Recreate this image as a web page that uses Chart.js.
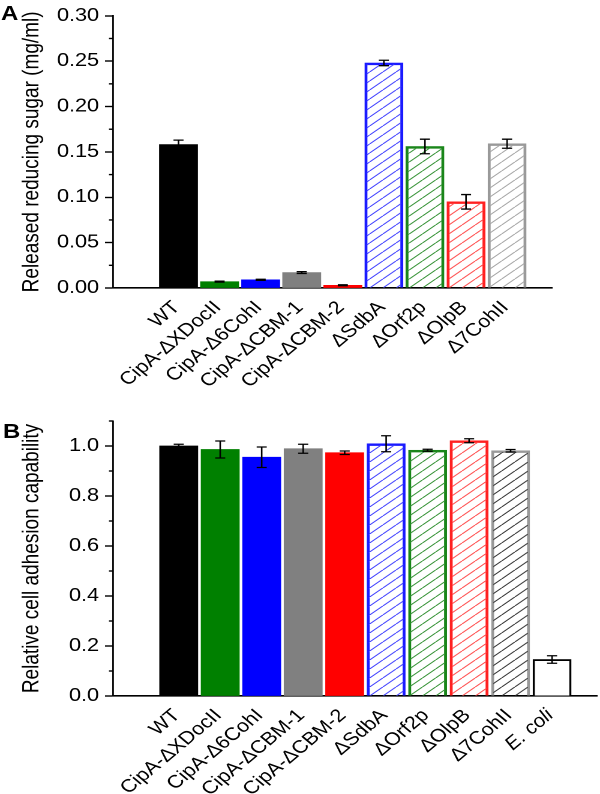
<!DOCTYPE html>
<html><head><meta charset="utf-8">
<script src="https://cdn.jsdelivr.net/npm/chart.js@4.4.1/dist/chart.umd.min.js"></script>
<style>
html,body{margin:0;padding:0;background:#fff;}
#wrap{position:relative;width:600px;height:794px;overflow:hidden;background:#fff;}
canvas{position:absolute;left:0;transform:scaleX(1.2);transform-origin:0 0;}
.lbl{position:absolute;font:bold 20px Arial,"Liberation Sans",sans-serif;color:#000;line-height:20px;transform:scaleX(1.2);transform-origin:0 0;}
</style></head><body>
<div id="wrap">
<canvas id="cA" width="500" height="390" style="top:0"></canvas>
<canvas id="cB" width="500" height="404" style="top:390px"></canvas>
<div class="lbl" style="left:1px;top:3px">A</div>
<div class="lbl" style="left:3px;top:421px">B</div>
</div>
<script>
// ---------- data ----------
const categoriesA = ['WT', 'CipA-\u0394XDocII', 'CipA-\u03946CohI', 'CipA-\u0394CBM-1', 'CipA-\u0394CBM-2', '\u0394SdbA', '\u0394Orf2p', '\u0394OlpB', '\u03947CohII'];
const sugarValues = [0.158, 0.007, 0.009, 0.017, 0.003, 0.248, 0.156, 0.095, 0.159];
const sugarErrors = [0.005, 0.0005, 0.0006, 0.001, 0.0005, 0.003, 0.008, 0.008, 0.005];
const yMajorA = [0, 0.05, 0.10, 0.15, 0.20, 0.25, 0.30];
const yMinorA = [0.025, 0.075, 0.125, 0.175, 0.225, 0.275];

const categoriesB = ['WT', 'CipA-\u0394XDocII', 'CipA-\u03946CohI', 'CipA-\u0394CBM-1', 'CipA-\u0394CBM-2', '\u0394SdbA', '\u0394Orf2p', '\u0394OlpB', '\u03947CohII', 'E. coli'];
const adhesionValues = [1.0, 0.986, 0.955, 0.989, 0.973, 1.009, 0.983, 1.021, 0.981, 0.146];
const adhesionErrors = [0.007, 0.034, 0.041, 0.018, 0.007, 0.032, 0.004, 0.008, 0.005, 0.015];
const yMajorB = [0, 0.2, 0.4, 0.6, 0.8, 1.0];
const yMinorB = [0.1, 0.3, 0.5, 0.7, 0.9, 1.1];

// ---------- styles ----------
const FONT = 'Arial, "Liberation Sans", sans-serif';
Chart.defaults.font.family = FONT;
Chart.defaults.color = '#000';

function hatch(color) {
  const R = 2, w = 11, h = 9;
  const c = document.createElement('canvas');
  c.width = w * R; c.height = h * R;
  const g = c.getContext('2d');
  g.scale(R, R);
  g.strokeStyle = color; g.lineWidth = 1;
  g.beginPath();
  for (let k = -1; k <= 1; k++) { g.moveTo(k * w, h); g.lineTo(k * w + w, 0); }
  g.stroke();
  const p = g.createPattern(c, 'repeat');
  if (p.setTransform && window.DOMMatrix) p.setTransform(new DOMMatrix().scale(1 / R));
  return p;
}

const fillsA = ['#000000', '#008000', '#0000ff', '#808080', '#ff0000',
  hatch('#4646ff'), hatch('#3c963c'), hatch('#ff5050'), hatch('#a8a8a8')];
const bordersA = ['#000000', '#008000', '#0000ff', '#808080', '#ff0000', '#1a1aff', '#1a861a', '#ff2020', '#999999'];
const bwA = [0, 0, 0, 0, 0, 1.8, 1.8, 1.8, 1.8];

const fillsB = ['#000000', '#008000', '#0000ff', '#808080', '#ff0000',
  hatch('#4646ff'), hatch('#3c963c'), hatch('#ff5050'), hatch('#3a3a3a'), '#ffffff'];
const bordersB = ['#000000', '#008000', '#0000ff', '#808080', '#ff0000', '#1a1aff', '#1a861a', '#ff2020', '#999999', '#000000'];
const bwB = [0, 0, 0, 0, 0, 1.8, 1.8, 1.8, 1.8, 1.8];

// ---------- plugins ----------
const errorBars = {
  id: 'errorBars',
  afterDatasetsDraw(chart) {
    const ctx = chart.ctx, ys = chart.scales.y;
    chart.data.datasets.forEach((ds, di) => {
      if (!ds.errors) return;
      const meta = chart.getDatasetMeta(di);
      ctx.save();
      ctx.strokeStyle = '#000'; ctx.lineWidth = 1.3;
      meta.data.forEach((bar, i) => {
        const v = ds.data[i].y, e = ds.errors[i];
        const x = bar.x;
        const yt = ys.getPixelForValue(v + e), yb = ys.getPixelForValue(v - e);
        ctx.beginPath();
        ctx.moveTo(x, yt); ctx.lineTo(x, yb);
        ctx.moveTo(x - 4.2, yt); ctx.lineTo(x + 4.2, yt);
        ctx.moveTo(x - 4.2, yb); ctx.lineTo(x + 4.2, yb);
        ctx.stroke();
      });
      ctx.restore();
    });
  }
};
const minorTicks = {
  id: 'minorTicks',
  afterDraw(chart, args, opts) {
    const s = chart.scales.y, ctx = chart.ctx;
    ctx.save();
    ctx.strokeStyle = '#000'; ctx.lineWidth = 1.4;
    (opts.values || []).forEach(v => {
      const y = s.getPixelForValue(v);
      ctx.beginPath(); ctx.moveTo(s.right - 3.4, y); ctx.lineTo(s.right, y); ctx.stroke();
    });
    ctx.restore();
  }
};

function isIn(arr, v) { return arr.some(a => Math.abs(a - v) < 1e-9); }

function makeChart(id, cats, vals, errs, fills, borders, bws, yMajor, yMinor, yMax, digits, title, pad, xHeight) {
  return new Chart(document.getElementById(id), {
    type: 'bar',
    data: {
      datasets: [{
        data: vals.map((v, i) => ({ x: i, y: v })),
        errors: errs,
        backgroundColor: fills,
        borderColor: borders,
        borderWidth: bws,
        barThickness: 31.7
      }]
    },
    plugins: [errorBars, minorTicks],
    options: {
      responsive: false, animation: false, devicePixelRatio: 2,
      layout: { padding: pad },
      plugins: { legend: { display: false }, tooltip: { enabled: false }, minorTicks: { values: yMinor } },
      scales: {
        x: {
          type: 'linear', min: -1, max: cats.length - 0.5,
          afterBuildTicks: s => { s.ticks = cats.map((_, i) => ({ value: i })); },
          afterFit: s => { s.height = xHeight; },
          grid: { display: false, drawTicks: false },
          border: { display: true, color: '#000', width: 1.6 },
          ticks: {
            autoSkip: false, minRotation: 45, maxRotation: 45, padding: 9, labelOffset: -1.5, color: '#000',
            font: c => ({ family: FONT, size: 18, style: (cats[c.tick && c.tick.value] === 'E. coli') ? 'italic' : 'normal' }),
            callback: v => (cats[v] !== undefined ? cats[v] : '')
          }
        },
        y: {
          min: 0, max: yMax,
          afterBuildTicks: s => { s.ticks = yMajor.concat(yMinor).sort((a, b) => a - b).map(v => ({ value: v })); },
          afterFit: s => { s.width = 94.2; },
          grid: {
            drawOnChartArea: false, drawTicks: true, tickLength: 6.7, tickWidth: 1.4,
            tickColor: c => (c.tick && isIn(yMajor, c.tick.value)) ? '#000' : 'rgba(0,0,0,0)'
          },
          border: { display: true, color: '#000', width: 1.4 },
          ticks: {
            autoSkip: false, padding: 5, color: '#000', font: { size: 18 },
            callback: v => isIn(yMajor, v) ? v.toFixed(digits) : ''
          },
          title: { display: true, text: title, color: '#000', font: { size: 19 }, padding: { top: 15.5, bottom: 0 } }
        }
      }
    }
  });
}

makeChart('cA', categoriesA, sugarValues, sugarErrors, fillsA, bordersA, bwA, yMajorA, yMinorA, 0.30, 2,
  'Released reducing sugar (mg/ml)', { left: 0, right: 40, top: 14, bottom: 0 }, 102);
makeChart('cB', categoriesB, adhesionValues, adhesionErrors, fillsB, bordersB, bwB, yMajorB, yMinorB, 1.1, 1,
  'Relative cell adhesion capability', { left: 0, right: 2.5, top: 31, bottom: 0 }, 98);
</script>
</body></html>
